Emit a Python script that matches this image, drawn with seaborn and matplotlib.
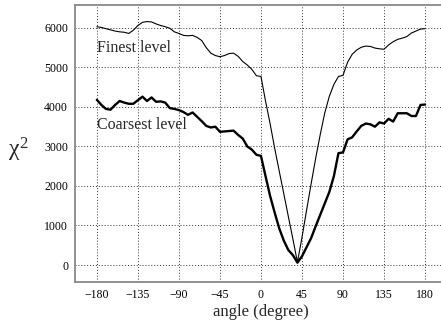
import numpy as np
import pandas as pd
import matplotlib
matplotlib.use("Agg")
import matplotlib.pyplot as plt
import seaborn as sns

# angle grid (degrees) and chi^2
angles = list(range(-180, 185, 5))

finest = [6030, 6010, 5980, 5950, 5920, 5900, 5890, 5860, 5940, 6060,
          6140, 6160, 6150, 6100, 6060, 6030, 5990, 5900, 5860, 5810,
          5800, 5810, 5760, 5680, 5500, 5360, 5300, 5270, 5300, 5350,
          5360, 5280, 5150, 5060, 4950, 4790, 4770, 4150, 3580, 2960,
          2380, 1810, 1230, 660, 70, 700, 1380, 2050, 2700, 3300,
          3850, 4270, 4570, 4770, 4800, 5130, 5330, 5440, 5510, 5540,
          5530, 5490, 5470, 5460, 5570, 5650, 5710, 5740, 5780, 5870,
          5920, 5970, 5980]

coarsest = [4180, 4050, 3950, 3930, 4050, 4150, 4110, 4080, 4080, 4170,
            4260, 4150, 4240, 4130, 4140, 4110, 3970, 3950, 3920, 3870,
            3800, 3860, 3750, 3640, 3520, 3480, 3500, 3370, 3380, 3390,
            3400, 3290, 3200, 3000, 2920, 2790, 2760, 2250, 1750, 1330,
            930, 620, 380, 250, 60, 220, 450, 680, 980, 1270,
            1560, 1850, 2250, 2830, 2850, 3180, 3230, 3380, 3520, 3580,
            3560, 3500, 3610, 3580, 3700, 3630, 3840, 3840, 3840, 3770,
            3770, 4050, 4060]

x_ticks = [-180, -135, -90, -45, 0, 45, 90, 135, 180]
y_ticks = [0, 1000, 2000, 3000, 4000, 5000, 6000]

df = pd.DataFrame({
    "angle": angles * 2,
    "chi2": finest + coarsest,
    "level": ["Finest level"] * len(angles) + ["Coarsest level"] * len(angles),
})

sns.set_style("white")
plt.rcParams["font.family"] = ["Liberation Serif", "DejaVu Serif"]
plt.rcParams["mathtext.fontset"] = "custom"
plt.rcParams["mathtext.rm"] = "Liberation Serif"
plt.rcParams["mathtext.it"] = "Liberation Serif"

fig = plt.figure(figsize=(4.41, 3.31), dpi=100)
ax = fig.add_axes([0.170, 0.148, 0.8435, 0.837])

sns.lineplot(data=df, x="angle", y="chi2", hue="level", size="level",
             sizes={"Finest level": 0.8, "Coarsest level": 1.7},
             palette={"Finest level": "black", "Coarsest level": "black"},
             legend=False, ax=ax)

ax.set_xlim(-204, 204)
ax.set_ylim(-430, 6580)
ax.set_xticks(x_ticks)
ax.set_yticks(y_ticks)
ax.grid(True, color="#333333", linestyle=(0, (1, 2)), linewidth=0.7)
ax.tick_params(length=0, labelsize=8.5, colors="black")
ax.tick_params(axis="y", pad=5)
ax.tick_params(axis="x", pad=5)

for side in ["left", "bottom", "top"]:
    ax.spines[side].set_color("#888888")
    ax.spines[side].set_linewidth(1.3)
ax.spines["right"].set_visible(False)

ax.text(-180, 5480, "Finest level", fontsize=11.5, va="center", ha="left")
ax.text(-180, 3540, "Coarsest level", fontsize=11.5, va="center", ha="left")

ax.set_xlabel("angle (degree)", fontsize=12)
ax.xaxis.set_label_coords(0.5, -0.108)
ax.xaxis.label.set_va("center")
ax.set_ylabel(r"$\chi^2$", fontsize=17, rotation=0)
ax.yaxis.set_label_coords(-0.153, 0.477)
ax.yaxis.label.set_va("center")
ax.yaxis.label.set_ha("center")

fig.savefig("out.png", dpi=100)
